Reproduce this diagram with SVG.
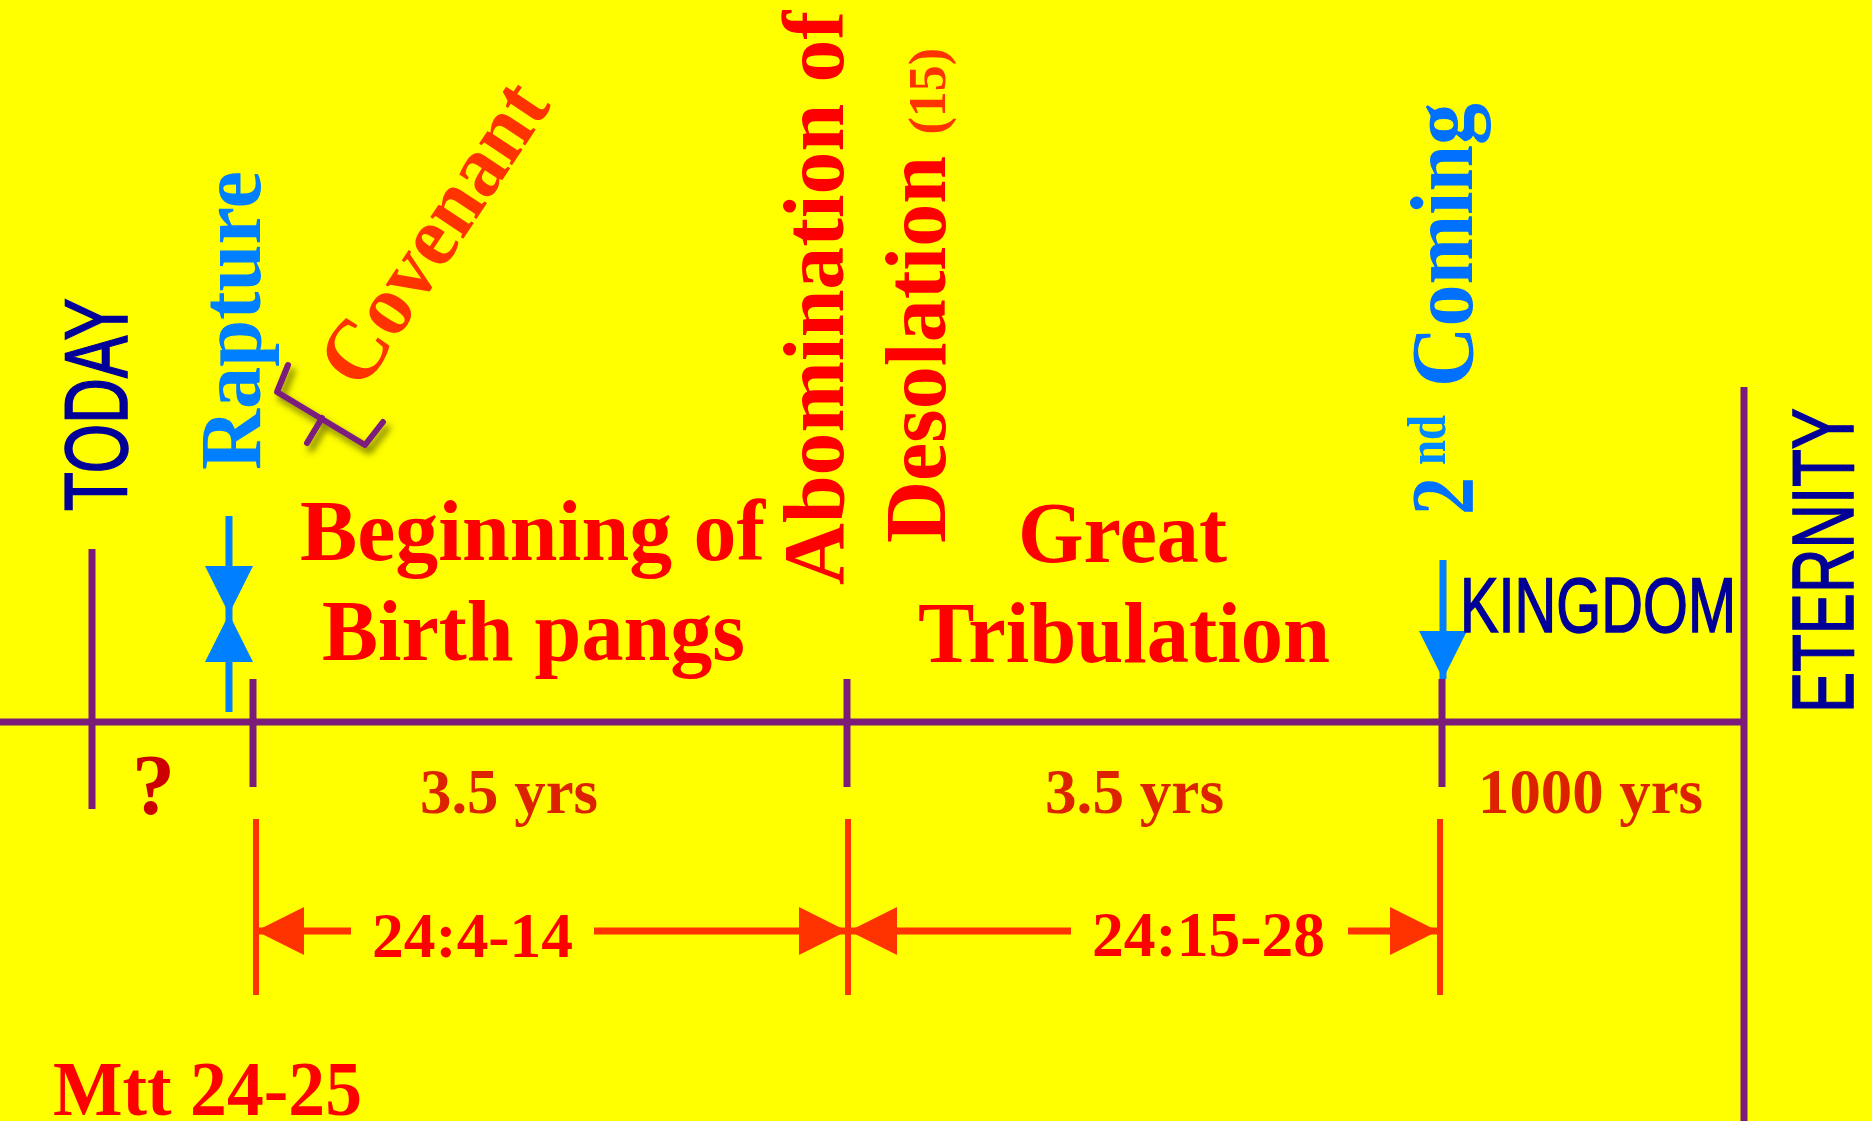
<svg xmlns="http://www.w3.org/2000/svg" width="1872" height="1121" viewBox="0 0 1872 1121">
<style>
.tl{stroke:#7B1C7B;stroke-width:7;fill:none}
.dim{stroke:#FF3300;stroke-width:7;fill:none}
.dimv{stroke:#FF3300;stroke-width:6;fill:none}
.blu{stroke:#0080FF;stroke-width:7;fill:none}
.serif{font-family:"Liberation Serif","Times New Roman",serif;font-weight:bold}
.sans{font-family:"Liberation Sans Narrow","Liberation Sans",Arial,sans-serif;fill:#000099;stroke:#000099;stroke-width:1.6}
.big{font-size:86px;fill:#FF0000}
.yrs{font-size:64px;fill:#DD2200}
.ref{font-size:64px;fill:#FF0000}
</style>
<defs>
<marker id="ahRed" markerUnits="userSpaceOnUse" markerWidth="48" markerHeight="48" viewBox="0 0 48 48" refX="48" refY="24" orient="auto-start-reverse">
<path d="M0,0 L48,24 L0,48 Z" fill="#FF3300"/>
</marker>
<marker id="ahBlue" markerUnits="userSpaceOnUse" markerWidth="48" markerHeight="48" viewBox="0 0 48 48" refX="48" refY="24" orient="auto-start-reverse">
<path d="M0,0 L48,24 L0,48 Z" fill="#0080FF"/>
</marker>
<filter id="shadow" x="-30%" y="-30%" width="170%" height="170%">
<feDropShadow dx="4" dy="6" stdDeviation="3.5" flood-color="#4d4d00" flood-opacity="0.75"/>
</filter>
</defs>
<rect x="0" y="0" width="1872" height="1121" fill="#FFFF00"/>

<g id="connectors">
<line class="tl" x1="0" y1="722" x2="1744" y2="722"/>
<line class="tl" x1="92" y1="549" x2="92" y2="809"/>
<line class="tl" x1="253" y1="679" x2="253" y2="787"/>
<line class="tl" x1="847" y1="679" x2="847" y2="787"/>
<line class="tl" x1="1442" y1="679" x2="1442" y2="787"/>
<line class="tl" x1="1744" y1="387" x2="1744" y2="1121"/>
<line class="dimv" x1="256" y1="819" x2="256" y2="995"/>
<line class="dimv" x1="848" y1="819" x2="848" y2="995"/>
<line class="dimv" x1="1440" y1="819" x2="1440" y2="995"/>
<path class="dim" d="M256,931 L351,931" marker-start="url(#ahRed)"/>
<path class="dim" d="M594,931 L847,931" marker-end="url(#ahRed)"/>
<path class="dim" d="M849,931 L1071,931" marker-start="url(#ahRed)"/>
<path class="dim" d="M1348,931 L1438,931" marker-end="url(#ahRed)"/>
<path class="blu" d="M229,516 L229,614" marker-end="url(#ahBlue)"/>
<path class="blu" d="M229,712 L229,614" marker-end="url(#ahBlue)"/>
<path class="blu" d="M1443,560 L1443,679" marker-end="url(#ahBlue)"/>
</g>

<g id="today">
<text class="sans" font-size="89" textLength="213" lengthAdjust="spacingAndGlyphs" transform="translate(127,511) rotate(-90)">TODAY</text>
</g>
<g id="rapture">
<text class="serif" font-size="86" fill="#0080FF" textLength="299" lengthAdjust="spacingAndGlyphs" transform="translate(260,470) rotate(-90)">Rapture</text>
</g>
<g id="covenant">
<path d="M288,365 L277,392 L365,445 L383,422 M322,418 L307,443" stroke="#7B1C7B" stroke-width="6" fill="none" stroke-linejoin="round" stroke-linecap="round" filter="url(#shadow)"/>
<text class="serif" font-size="86" fill="#FF3300" textLength="344" lengthAdjust="spacingAndGlyphs" transform="translate(362,392) rotate(-56.5)">Covenant</text>
</g>
<g id="beginning">
<text class="serif big" x="300" y="560" textLength="465" lengthAdjust="spacingAndGlyphs">Beginning of</text>
<text class="serif big" x="322" y="660" textLength="423" lengthAdjust="spacingAndGlyphs">Birth pangs</text>
</g>
<g id="abomination">
<text class="serif big" textLength="574" lengthAdjust="spacingAndGlyphs" transform="translate(843,585) rotate(-90)">Abomination of</text>
<text class="serif big" transform="translate(945,543) rotate(-90)">Desolation <tspan font-size="52" fill="#FF3300">(15)</tspan></text>
</g>
<g id="great">
<text class="serif big" x="1018" y="562" textLength="209" lengthAdjust="spacingAndGlyphs">Great</text>
<text class="serif big" x="918" y="662" textLength="412" lengthAdjust="spacingAndGlyphs">Tribulation</text>
</g>
<g id="second-coming">
<g transform="translate(1472,515) rotate(-90)">
<text class="serif" font-size="88" fill="#0070FF" x="0" y="0" textLength="38" lengthAdjust="spacingAndGlyphs">2</text>
<text class="serif" font-size="55" fill="#0088FF" x="50" y="-27" textLength="50" lengthAdjust="spacingAndGlyphs">nd</text>
<text class="serif" font-size="88" fill="#0070FF" x="128" y="0" textLength="284" lengthAdjust="spacingAndGlyphs">Coming</text>
</g>
</g>
<g id="kingdom">
<text class="sans" font-size="78" x="1460" y="632" textLength="276" lengthAdjust="spacingAndGlyphs">KINGDOM</text>
</g>
<g id="eternity">
<text class="sans" font-size="88" textLength="305" lengthAdjust="spacingAndGlyphs" transform="translate(1853,713) rotate(-90)">ETERNITY</text>
</g>
<g id="question">
<text class="serif" font-size="86" fill="#CC0000" x="132" y="814">?</text>
</g>
<g id="period1">
<text class="serif yrs" x="420" y="813" textLength="178" lengthAdjust="spacingAndGlyphs">3.5 yrs</text>
</g>
<g id="period2">
<text class="serif yrs" x="1045" y="813" textLength="179" lengthAdjust="spacingAndGlyphs">3.5 yrs</text>
</g>
<g id="period3">
<text class="serif yrs" x="1478" y="813" textLength="225" lengthAdjust="spacingAndGlyphs">1000 yrs</text>
</g>
<g id="ref1">
<text class="serif ref" x="372" y="957" textLength="201" lengthAdjust="spacingAndGlyphs">24:4-14</text>
</g>
<g id="ref2">
<text class="serif ref" x="1092" y="956" textLength="233" lengthAdjust="spacingAndGlyphs">24:15-28</text>
</g>
<g id="title">
<text class="serif" font-size="78" fill="#FF0000" x="53" y="1115" textLength="309" lengthAdjust="spacingAndGlyphs">Mtt 24-25</text>
</g>
</svg>
